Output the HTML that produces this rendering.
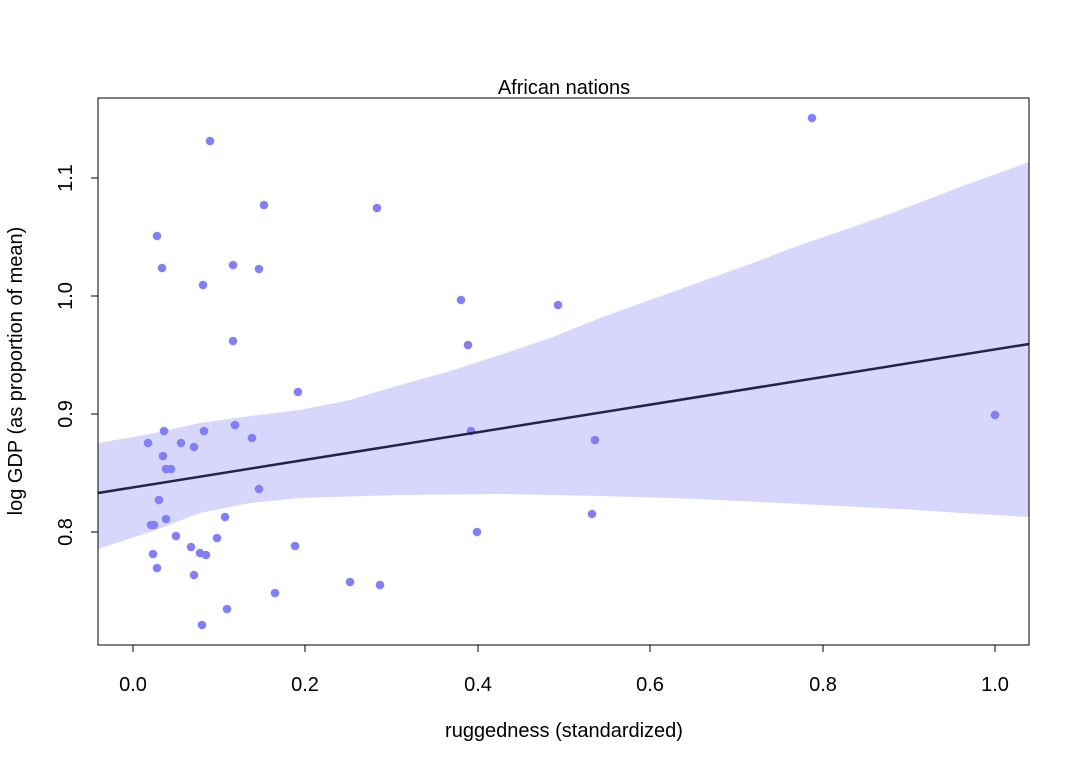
<!DOCTYPE html>
<html><head><style>body{margin:0;background:#fff}</style></head><body>
<svg width="1080" height="768" xmlns="http://www.w3.org/2000/svg" font-family="Liberation Sans, sans-serif">
<rect width="1080" height="768" fill="#fff"/>
<defs><clipPath id="c"><rect x="98" y="98" width="931" height="547"/></clipPath></defs>
<g clip-path="url(#c)">
<path d="M98,443 L150,434 L200,423 L250,416 L300,410 L350,400 L400,385 L450,371 L500,355 L550,338 L600,318 L650,300 L700,282 L750,264 L800,245 L850,228 L900,210 L960,187 L1029,162 L1029,517 L960,513 L900,509 L800,504 L700,499 L600,496 L500,494 L400,495 L300,498 L250,503 L200,513 L150,532 L98,549 Z" fill="#d7d7fd"/>
</g>
<g fill="#7f7ff8">
<circle cx="210" cy="141" r="4.3"/><circle cx="812" cy="118" r="4.3"/><circle cx="264" cy="205" r="4.3"/><circle cx="377" cy="208" r="4.3"/><circle cx="157" cy="236" r="4.3"/><circle cx="162" cy="268" r="4.3"/><circle cx="233" cy="265" r="4.3"/><circle cx="259" cy="269" r="4.3"/><circle cx="203" cy="285" r="4.3"/><circle cx="461" cy="300" r="4.3"/><circle cx="558" cy="305" r="4.3"/><circle cx="233" cy="341" r="4.3"/><circle cx="468" cy="345" r="4.3"/><circle cx="298" cy="392" r="4.3"/><circle cx="235" cy="425" r="4.3"/><circle cx="164" cy="431" r="4.3"/><circle cx="204" cy="431" r="4.3"/><circle cx="471" cy="431" r="4.3"/><circle cx="252" cy="438" r="4.3"/><circle cx="148" cy="443" r="4.3"/><circle cx="181" cy="443" r="4.3"/><circle cx="194" cy="447" r="4.3"/><circle cx="595" cy="440" r="4.3"/><circle cx="995" cy="415" r="4.3"/><circle cx="163" cy="456" r="4.3"/><circle cx="166" cy="469" r="4.3"/><circle cx="171" cy="469" r="4.3"/><circle cx="259" cy="489" r="4.3"/><circle cx="159" cy="500" r="4.3"/><circle cx="225" cy="517" r="4.3"/><circle cx="592" cy="514" r="4.3"/><circle cx="166" cy="519" r="4.3"/><circle cx="151" cy="525" r="4.3"/><circle cx="154" cy="525" r="4.3"/><circle cx="477" cy="532" r="4.3"/><circle cx="176" cy="536" r="4.3"/><circle cx="217" cy="538" r="4.3"/><circle cx="295" cy="546" r="4.3"/><circle cx="191" cy="547" r="4.3"/><circle cx="153" cy="554" r="4.3"/><circle cx="200" cy="553" r="4.3"/><circle cx="206" cy="555" r="4.3"/><circle cx="157" cy="568" r="4.3"/><circle cx="194" cy="575" r="4.3"/><circle cx="350" cy="582" r="4.3"/><circle cx="380" cy="585" r="4.3"/><circle cx="275" cy="593" r="4.3"/><circle cx="227" cy="609" r="4.3"/><circle cx="202" cy="625" r="4.3"/>
</g>
<line x1="98" y1="493" x2="1029" y2="344" stroke="#22224a" stroke-width="2.5"/>
<rect x="98" y="98" width="931" height="547" fill="none" stroke="#000" stroke-width="1"/>
<g stroke="#000">
<line x1="133" y1="645" x2="133" y2="652"/><line x1="305" y1="645" x2="305" y2="652"/><line x1="478" y1="645" x2="478" y2="652"/><line x1="650" y1="645" x2="650" y2="652"/><line x1="823" y1="645" x2="823" y2="652"/><line x1="995" y1="645" x2="995" y2="652"/>
<line x1="91" y1="532" x2="98" y2="532"/><line x1="91" y1="414" x2="98" y2="414"/><line x1="91" y1="296" x2="98" y2="296"/><line x1="91" y1="178" x2="98" y2="178"/>
</g>
<g font-size="20" text-anchor="middle" fill="#000">
<text x="133" y="691">0.0</text><text x="305" y="691">0.2</text><text x="478" y="691">0.4</text><text x="650" y="691">0.6</text><text x="823" y="691">0.8</text><text x="995" y="691">1.0</text>
<text transform="translate(72,532) rotate(-90)">0.8</text><text transform="translate(72,414) rotate(-90)">0.9</text><text transform="translate(72,296) rotate(-90)">1.0</text><text transform="translate(72,178) rotate(-90)">1.1</text>
<text x="564" y="737">ruggedness (standardized)</text>
<text transform="translate(22,371) rotate(-90)">log GDP (as proportion of mean)</text>
<text x="564" y="94">African nations</text>
</g>
</svg>
</body></html>
